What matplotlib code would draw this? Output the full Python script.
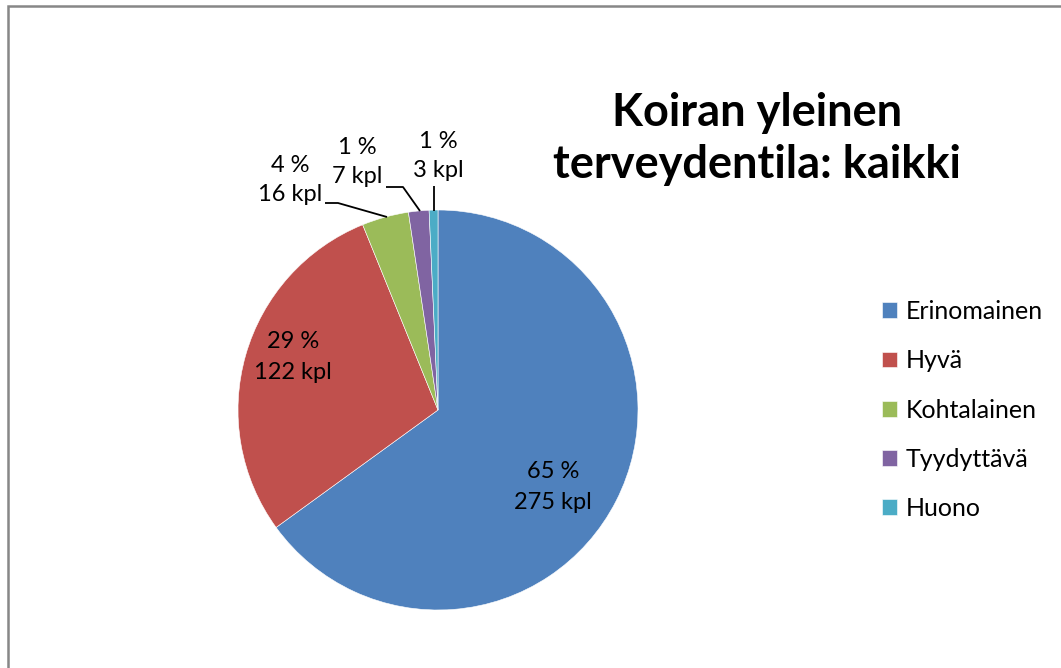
import matplotlib.pyplot as plt
from matplotlib.patches import Rectangle

# data
categories = ["Erinomainen", "Hyvä", "Kohtalainen", "Tyydyttävä", "Huono"]
counts = [275, 122, 16, 7, 3]
percents = ["65 %", "29 %", "4 %", "1 %", "1 %"]
colors = ["#4F81BD", "#C0504D", "#9BBB59", "#8064A2", "#4BACC6"]
title = "Koiran yleinen\nterveydentila: kaikki"

plt.rcParams['font.family'] = ['Lato', 'DejaVu Sans']

W, H = 1061, 668
fig = plt.figure(figsize=(W / 100, H / 100), dpi=100)

# pie centre at (438, 410) px, radius 200 px
cx, cy, r = 438, 410, 200
half = 250
ax = fig.add_axes([(cx - half) / W, (H - cy - half) / H, 2 * half / W, 2 * half / H])
ax.set_xlim(-half / r, half / r)
ax.set_ylim(-half / r, half / r)
ax.axis("off")

wedges, _ = ax.pie(counts, colors=colors, startangle=90, counterclock=False,
                   radius=1, wedgeprops=dict(edgecolor="white", linewidth=0.4))


def px(x, y):
    # pixel -> data
    return ((x - cx) / r, (cy - y) / r)


label_size = 17
# inside labels
inside = {0: (553, 487), 1: (293, 357)}
for i, (x, y) in inside.items():
    ax.text(*px(x, y), f"{percents[i]}\n{counts[i]} kpl", ha="center", va="center",
            fontsize=label_size, linespacing=1.55)

# outside labels with leader lines: text pos, elbow, wedge point
outside = {
    2: ((290, 180), [(325, 203), (338, 203), (387, 217)]),
    3: ((357, 162), [(386, 187), (403, 187), (420, 211)]),
    4: ((438, 156), [(434, 186), (434, 211)]),
}
for i, (tp, pts) in outside.items():
    ax.text(*px(*tp), f"{percents[i]}\n{counts[i]} kpl", ha="center", va="center",
            fontsize=label_size, linespacing=1.45, clip_on=False)
    xs = [px(*p)[0] for p in pts]
    ys = [px(*p)[1] for p in pts]
    ax.plot(xs, ys, color="black", linewidth=1.3, clip_on=False, solid_capstyle="butt")

fig.text(757 / W, 1 - 139 / H, title, ha="center", va="center", fontsize=32.5,
         fontweight="bold", linespacing=1.3)

leg = fig.legend(wedges, categories, loc="center left", bbox_to_anchor=(859 / W, 1 - 410 / H),
                 frameon=False, fontsize=18, handlelength=0.6, handleheight=0.6,
                 handletextpad=0.35, labelspacing=1.05)

# chart border
fig.patches.append(Rectangle((7.5 / W, -0.05), 1.1, 1 - 6 / H + 0.05, transform=fig.transFigure,
                             fill=False, edgecolor="#878787", linewidth=1.8))

fig.savefig("out.png", dpi=100)
